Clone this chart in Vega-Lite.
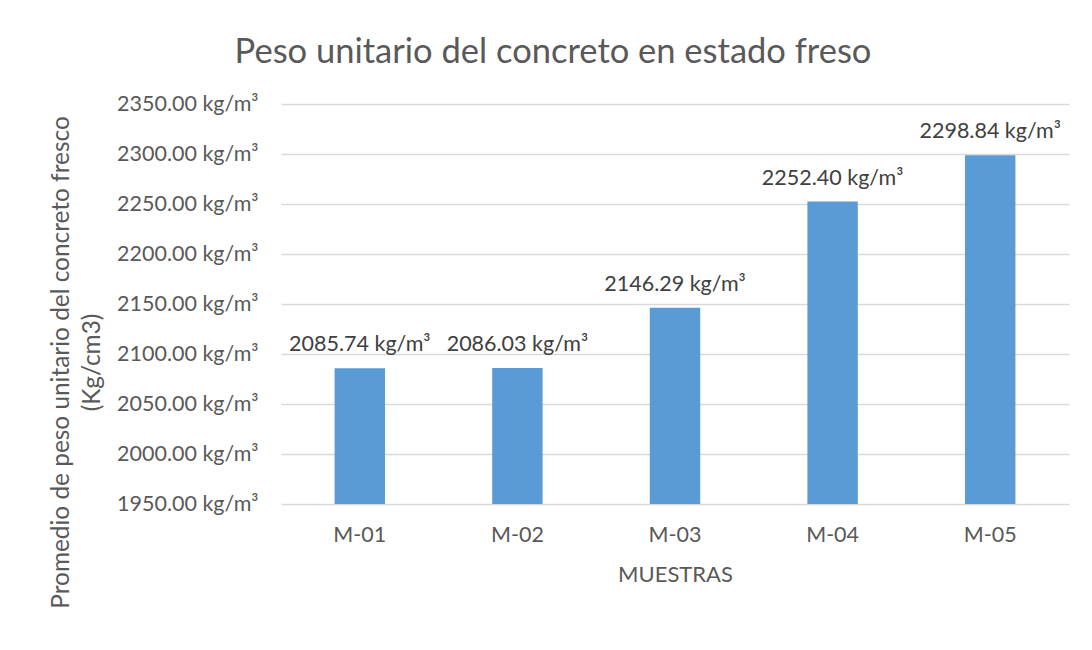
{
  "$schema": "https://vega.github.io/schema/vega-lite/v6.json",
  "width": 788,
  "height": 400,
  "autosize": {"type": "none"},
  "padding": {"left": 281, "top": 104, "right": 23, "bottom": 146},
  "background": "white",
  "config": {
    "font": "Lato",
    "view": {"stroke": null}
  },
  "title": {
    "text": "Peso unitario del concreto en estado freso",
    "font": "Lato",
    "fontSize": 34.5,
    "fontWeight": "normal",
    "color": "#595959",
    "anchor": "middle",
    "frame": "group",
    "baseline": "alphabetic",
    "dx": -122,
    "offset": -4
  },
  "data": {
    "values": [
      {"muestra": "M-01", "peso": 2085.74, "label": "2085.74 kg/m³"},
      {"muestra": "M-02", "peso": 2086.03, "label": "2086.03 kg/m³"},
      {"muestra": "M-03", "peso": 2146.29, "label": "2146.29 kg/m³"},
      {"muestra": "M-04", "peso": 2252.40, "label": "2252.40 kg/m³"},
      {"muestra": "M-05", "peso": 2298.84, "label": "2298.84 kg/m³"}
    ]
  },
  "encoding": {
    "x": {
      "field": "muestra",
      "type": "nominal",
      "sort": null,
      "scale": {"paddingInner": 0.68, "paddingOuter": 0.34},
      "axis": {
        "title": "MUESTRAS",
        "titleFont": "Lato",
        "titleFontSize": 22,
        "titleFontWeight": "normal",
        "titleColor": "#595959",
        "titlePadding": 19,
        "labelAngle": 0,
        "labelFont": "Lato",
        "labelFontSize": 21.5,
        "labelColor": "#595959",
        "labelPadding": 20,
        "ticks": false,
        "domain": false,
        "zindex": 1
      }
    }
  },
  "layer": [
    {
      "mark": {"type": "bar", "color": "#5B9BD5"},
      "encoding": {
        "y": {
          "field": "peso",
          "type": "quantitative",
          "scale": {"domain": [1950, 2350], "zero": false, "nice": false},
          "axis": {
            "values": [1950, 2000, 2050, 2100, 2150, 2200, 2250, 2300, 2350],
            "labelExpr": "format(datum.value, '.2f') + ' kg/m³'",
            "labelFont": "Lato",
            "labelFontSize": 21.5,
            "labelColor": "#595959",
            "labelPadding": 23,
            "ticks": false,
            "domain": false,
            "grid": true,
            "gridColor": "#D9D9D9",
            "gridWidth": 1.3,
            "title": ["Promedio de peso unitario del concreto fresco", "(Kg/cm3)"],
            "titleFont": "Lato",
            "titleFontSize": 24.4,
            "titleFontWeight": "normal",
            "titleColor": "#595959",
            "titleAngle": -90,
            "titleLineHeight": 31,
            "titleAlign": "center",
            "titleBaseline": "middle",
            "titleX": -220,
            "titleY": 258
          }
        },
        "y2": {"datum": 1950}
      }
    },
    {
      "mark": {"type": "text", "baseline": "alphabetic", "dy": -17, "font": "Lato", "fontSize": 21.5, "color": "#404040"},
      "encoding": {
        "y": {"field": "peso", "type": "quantitative"},
        "text": {"field": "label"}
      }
    }
  ]
}
